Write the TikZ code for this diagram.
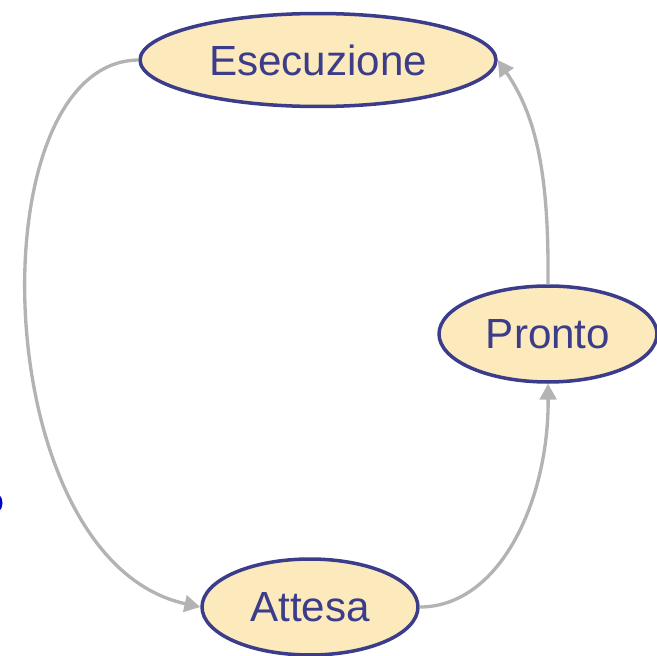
\documentclass[tikz,border=0pt]{standalone}
\usepackage{fontspec}
\setmainfont{Liberation Sans}
\usetikzlibrary{shapes.geometric,arrows.meta}

\definecolor{statofill}{HTML}{FCE9BC}
\definecolor{statoline}{HTML}{3B3D8B}
\definecolor{freccia}{HTML}{B3B3B3}

\tikzset{
    stato/.style={ellipse, draw=statoline, fill=statofill, line width=2pt, inner sep=0pt,
        text=statoline, font=\fontsize{24}{28}\selectfont},
    transizione/.style={freccia, line width=1.9pt, -{Triangle[length=9pt, width=9.5pt]}}
}

\begin{document}
\begin{tikzpicture}[x=0.02cm, y=-0.02cm]
            \useasboundingbox (0,0) rectangle (657,656);

            % Stati
            \node[stato, minimum width=7.12cm, minimum height=1.86cm] (esec) at (318,60) {Esecuzione};
            \node[stato, minimum width=4.36cm, minimum height=1.92cm] (pronto) at (548,334) {Pronto};
            \node[stato, minimum width=4.32cm, minimum height=1.92cm] (attesa) at (310,607) {Attesa};

            % Transizioni
            \draw[transizione] (esec.west) .. controls (-25,62) and (-15,560) .. (attesa.west);
            \draw[transizione] (attesa.east) .. controls (500,607) and (549,500) .. (pronto.south);
            \draw[transizione] (pronto.north) .. controls (549,180) and (538,118) .. (esec.east);

            % Bordo a sinistra
            \draw[blue!80!black, line width=1.7pt] (-10,503) circle (11);
        \end{tikzpicture}
\end{document}
